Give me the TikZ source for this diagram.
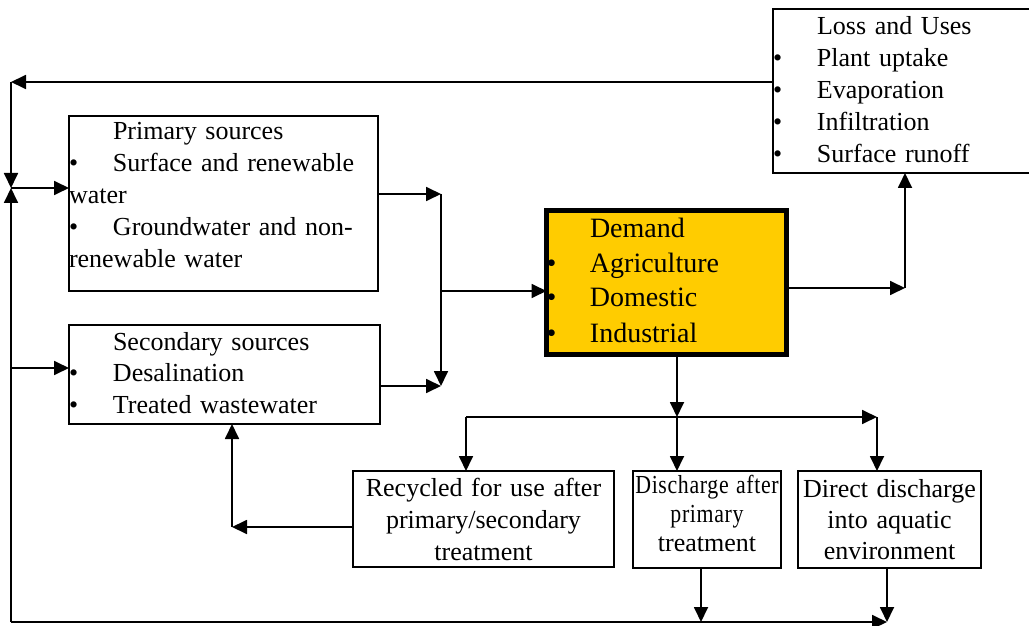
\documentclass[tikz,border=0pt]{standalone}
\usepackage{fontspec}
\setmainfont{Liberation Serif}
\newfontfamily\spacedfont[LetterSpace=3]{Liberation Serif}
\usepackage{tikz}
\usetikzlibrary{arrows.meta}
\definecolor{demandyellow}{HTML}{FFCC00}
\newcommand\boxfont{\fontsize{13pt}{16pt}\selectfont}
\newcommand\itembul[1][22pt]{\makebox[#1][l]{\textbullet}}
\newcommand\narrowtext[1]{\scalebox{0.84}[1]{\spacedfont\fontsize{13pt}{14.5pt}\selectfont #1}}
\tikzset{flow/.style={-{Triangle[length=7.5pt,width=7pt]}, line width=0.9pt}}

\begin{document}
\begin{tikzpicture}[x=0.5pt,y=-0.5pt]
	% Default look for each box
	\tikzstyle{every node}=[draw, rectangle, line width=0.9pt, inner sep=0pt, outer sep=0pt, anchor=north west, font=\boxfont];
	\useasboundingbox (0,0) rectangle (1029,626);

	\node[align=left, text width=129pt, text height=13pt, text depth=69pt] (loss) at (773,9) {\hspace*{22pt}Loss and Uses\\ \itembul Plant uptake\\ \itembul Evaporation\\ \itembul Infiltration\\ \itembul Surface runoff};
	\node[align=left, text width=154.5pt, text height=12pt, text depth=75.5pt] (primary) at (69,116) {\hspace*{22pt}Primary sources\\ \itembul Surface and renewable\\ water\\ \itembul Groundwater and non-\\ renewable water};
	\node[align=left, text width=155.5pt, text height=12.5pt, text depth=37pt] (secondary) at (69,325) {\hspace*{22pt}Secondary sources\\ \itembul Desalination\\ \itembul Treated wastewater};
	\node[align=left, line width=2.5pt, fill=demandyellow, text width=120pt, text height=13.25pt, text depth=58.75pt, font=\fontsize{14pt}{17.5pt}\selectfont] (demand) at (546.5,210.5) {\hspace*{21.75pt}Demand\\ \itembul[21.75pt]Agriculture\\ \itembul[21.75pt]Domestic\\ \itembul[21.75pt]Industrial};
	\node[align=center, text width=130.5pt, text height=12.5pt, text depth=35.5pt] (recycled) at (353,471) {Recycled for use after\\ primary/secondary\\ treatment};
	\node[align=center, text width=74pt, text height=11pt, text depth=37.5pt, font=\fontsize{13pt}{14.5pt}\selectfont] (discharge) at (633,471) {\makebox[74pt][c]{\narrowtext{Discharge after}}\\ \narrowtext{primary}\\ treatment};
	\node[align=center, text width=91.5pt, text height=13pt, text depth=35.5pt, font=\fontsize{13pt}{15.5pt}\selectfont] (direct) at (798,471) {Direct discharge\\ into aquatic\\ environment};

	\coordinate (topleft) at (11,82);		\coordinate (midleft) at (11,188);
	\coordinate (secleft) at (11,368);		\coordinate (bottomleft) at (11,622);
	\coordinate (dischout) at (701,622);	\coordinate (bottomright) at (887,622);
	\coordinate (collecttop) at (441,194);	\coordinate (collectmid) at (441,291);	\coordinate (collectbottom) at (441,386);
	\coordinate (demright) at (905,288);
	\coordinate (splitleft) at (466,417);	\coordinate (split) at (677,417);	\coordinate (splitright) at (877,417);
	\coordinate (retleft) at (232,527);

	\draw[flow] (loss.west |- topleft) -- (topleft);
	\draw[flow] (topleft) -- (midleft);
	\draw[flow] (bottomleft) -- (midleft);
	\draw[flow] (midleft) -- (primary.west |- midleft);
	\draw[flow] (secleft) -- (secondary.west |- secleft);
	\draw[flow] (bottomleft) -- (bottomright);

	\draw[flow] (primary.east |- collecttop) -- (collecttop);
	\draw[flow] (collecttop) -- (collectbottom);
	\draw[flow] (secondary.east |- collectbottom) -- (collectbottom);
	\draw[flow] (collectmid) -- (demand.west |- collectmid);

	\draw[flow] (demand.east |- demright) -- (demright);
	\draw[flow] (demright) -- (loss.south -| demright);

	\draw[flow] (demand.south -| split) -- (split);
	\draw[flow] (splitleft) -- (splitright);
	\draw[flow] (splitleft) -- (recycled.north -| splitleft);
	\draw[flow] (split) -- (discharge.north -| split);
	\draw[flow] (splitright) -- (direct.north -| splitright);

	\draw[flow] (recycled.west |- retleft) -- (retleft);
	\draw[flow] (retleft) -- (secondary.south -| retleft);
	\draw[flow] (discharge.south -| dischout) -- (dischout);
	\draw[flow] (direct.south -| bottomright) -- (bottomright);

\end{tikzpicture}
\end{document}
